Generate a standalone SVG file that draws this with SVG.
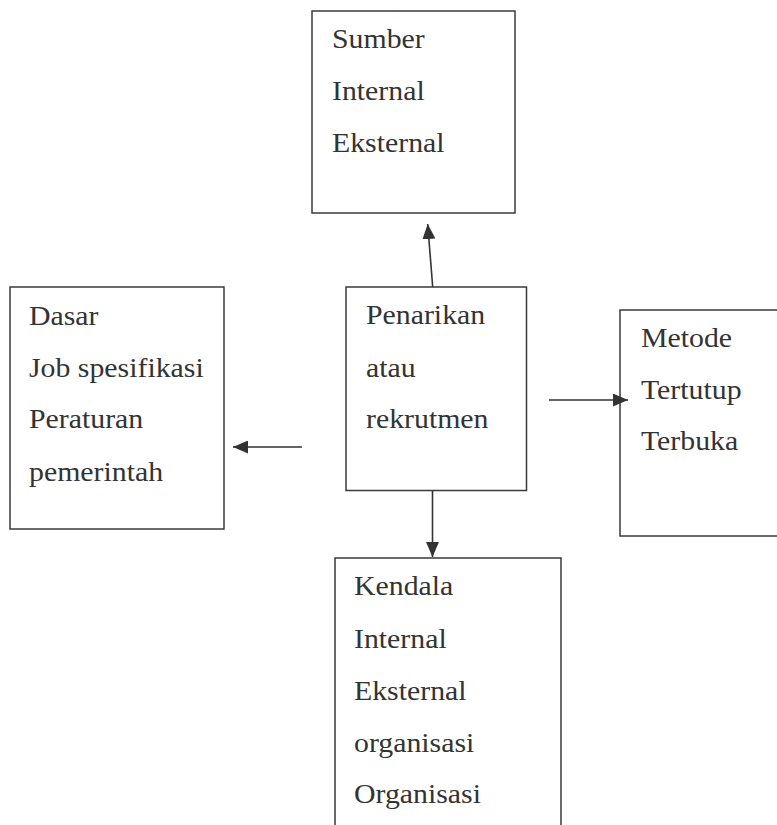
<svg xmlns="http://www.w3.org/2000/svg" width="777" height="825" viewBox="0 0 777 825">
<defs>
<style>
.box{fill:#fff;stroke:#3a3a3a;stroke-width:1.5}
.t{font-family:"Liberation Serif","Times New Roman",serif;font-size:28px;fill:#333}
.c{stroke:#333;stroke-width:1.6;fill:none;marker-end:url(#ah)}
</style>
<marker id="ah" markerUnits="userSpaceOnUse" markerWidth="15" markerHeight="13" refX="15" refY="6.5" orient="auto" viewBox="0 0 15 13">
<path d="M0,0 L15,6.5 L0,13 z" fill="#333"/>
</marker>
</defs>
<rect width="777" height="825" fill="#fff"/>
<g id="sumber">
<rect class="box" x="312" y="11" width="203" height="202"/>
<g transform="translate(332,0) scale(1.065,1)">
<text class="t" x="0" y="48">Sumber</text>
<text class="t" x="0" y="100">Internal</text>
<text class="t" x="0" y="152">Eksternal</text>
</g>
</g>
<g id="penarikan">
<rect class="box" x="346" y="287" width="180.5" height="203.5"/>
<g transform="translate(366,0) scale(1.065,1)">
<text class="t" x="0" y="324">Penarikan</text>
<text class="t" x="0" y="377">atau</text>
<text class="t" x="0" y="428">rekrutmen</text>
</g>
</g>
<g id="dasar">
<rect class="box" x="10" y="287" width="214" height="242"/>
<g transform="translate(29,0) scale(1.065,1)">
<text class="t" x="0" y="325">Dasar</text>
<text class="t" x="0" y="377">Job spesifikasi</text>
<text class="t" x="0" y="428">Peraturan</text>
<text class="t" x="0" y="481">pemerintah</text>
</g>
</g>
<g id="metode">
<rect class="box" x="620" y="310" width="200" height="226"/>
<g transform="translate(641,0) scale(1.065,1)">
<text class="t" x="0" y="347">Metode</text>
<text class="t" x="0" y="399">Tertutup</text>
<text class="t" x="0" y="450">Terbuka</text>
</g>
</g>
<g id="kendala">
<rect class="box" x="335" y="558" width="226" height="300"/>
<g transform="translate(354,0) scale(1.065,1)">
<text class="t" x="0" y="595">Kendala</text>
<text class="t" x="0" y="648">Internal</text>
<text class="t" x="0" y="700">Eksternal</text>
<text class="t" x="0" y="752">organisasi</text>
<text class="t" x="0" y="803">Organisasi</text>
</g>
</g>
<g id="connectors">
<line class="c" x1="432.7" y1="287" x2="427.7" y2="224"/>
<line class="c" x1="302" y1="447" x2="233" y2="447"/>
<line class="c" x1="549" y1="400" x2="628" y2="400"/>
<line class="c" x1="432.5" y1="491" x2="432.5" y2="557"/>
</g>
</svg>
